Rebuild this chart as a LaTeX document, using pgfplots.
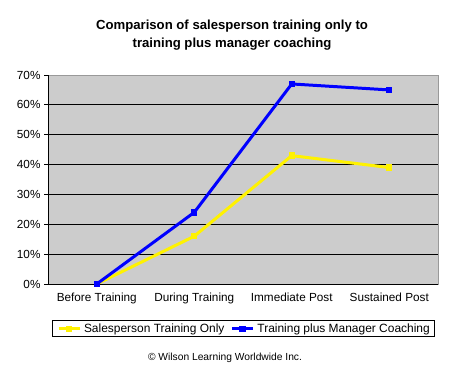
\documentclass[border=0pt]{standalone}
\usepackage{pgfplots}
\pgfplotsset{compat=1.18}
\usepackage{fontspec}
\setmainfont{Liberation Sans}
\definecolor{plotgray}{HTML}{CCCCCC}
\definecolor{bordergray}{HTML}{999999}
\begin{document}
\begin{tikzpicture}[x=1bp,y=1bp]
\path[use as bounding box] (0,0) rectangle (450,371);
\begin{axis}[
  at={(48bp,87bp)}, anchor=south west,
  scale only axis, width=390bp, height=209bp,
  xmin=-0.5, xmax=3.5, ymin=0, ymax=70,
  axis background/.style={fill=plotgray},
  axis line style={bordergray},
  xtick={0,1,2,3}, xticklabels={Before Training,During Training,Immediate Post,Sustained Post},
  extra x ticks={0.5,1.5,2.5}, extra x tick labels={},
  extra x tick style={major tick length=4bp, tick style={black, line width=0.8pt}, tick pos=bottom},
  x tick style={draw=none},
  ytick={0,10,...,70},
  yticklabel={\pgfmathprintnumber{\tick}\%},
  y tick style={black, line width=0.8pt},
  major tick length=4bp,
  tick align=outside, tick pos=left,
  ymajorgrids, grid style={black, line width=0.8pt},
  tick label style={font=\fontsize{11.8}{13}\selectfont},
  /pgf/number format/assume math mode=true,
  xticklabel style={yshift=-1bp},
  legend columns=2,
  legend cell align=left,
  legend style={at={(0.501,-0.214)}, anchor=center, draw=black, line width=0.9pt,
    font=\fontsize{12}{13}\selectfont, inner xsep=5bp, inner ysep=3bp,
    nodes={inner sep=0pt},
    /tikz/every odd column/.append style={column sep=3bp},
    /tikz/every even column/.append style={column sep=6bp}},
  legend image code/.code={\draw[#1, line width=3pt] (0bp,0bp) -- (21bp,0bp); \draw[#1, mark repeat=1, mark phase=1] plot coordinates {(10.5bp,0bp)};},
]
\draw[black, line width=0.9pt] (axis cs:-0.5,0) -- (axis cs:-0.5,70);
\draw[black, line width=0.9pt] (axis cs:-0.5,0) -- (axis cs:3.5,0);
\addplot[color=yellow, line width=3pt, mark=square*, mark size=2.7pt, mark options={line width=0pt}] coordinates {(0,0) (1,16) (2,43) (3,39)};
\addlegendentry{Salesperson Training Only}
\addplot[color=blue, line width=3pt, mark=square*, mark size=2.7pt, mark options={line width=0pt}] coordinates {(0,0) (1,24) (2,67) (3,65)};
\addlegendentry{Training plus Manager Coaching}
\end{axis}
\node[font=\bfseries\fontsize{13.2}{18}\selectfont, align=center] at (232,336) {Comparison of salesperson training only to\\training plus manager coaching};
\node[font=\fontsize{10.3}{12}\selectfont] at (225,13) {© Wilson Learning Worldwide Inc.};
\end{tikzpicture}
\end{document}
